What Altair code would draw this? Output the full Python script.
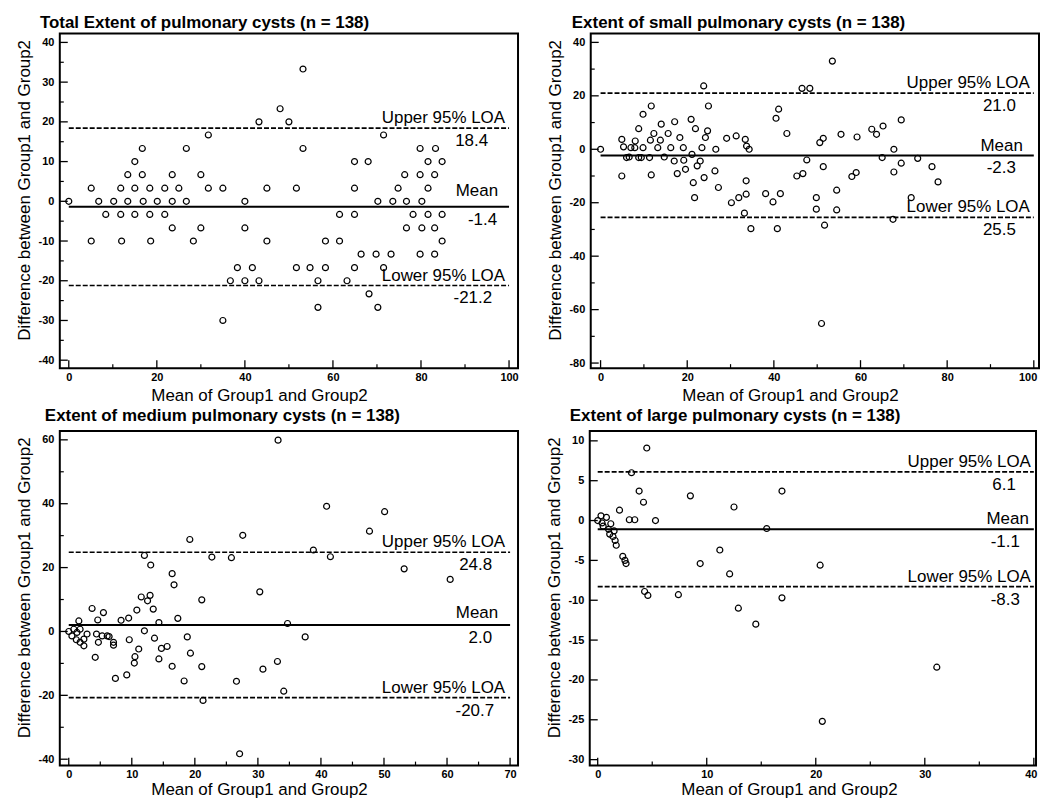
import altair as alt
import pandas as pd

FONT = "Liberation Sans"

# ---------------- data ----------------
total_x = [0, 5.1, 5.1, 6.8, 8.4, 10.2, 11.8, 11.8, 12, 13.4, 13.4, 15, 15, 15, 16.7, 16.7, 16.9, 18.4, 18.4, 18.6,
           20.1, 21.8, 21.8, 23.5, 23.5, 23.5, 25, 26.7, 26.7, 28.3, 30, 30, 31.7, 31.7, 35, 35, 36.7, 38.3, 40, 40,
           40, 41.7, 43.2, 43.2, 45, 45,
           53.2, 48.0, 50.0, 71.5, 53.2, 79.8, 83.3, 64.9, 68.0, 81.6, 84.8, 76.3, 79.8, 83.1, 51.7, 64.9, 74.8, 81.6,
           70.2, 73.6, 76.7, 80.2, 61.5, 64.9, 78.2, 81.6, 84.8, 76.7, 80.2, 83.1, 58.3, 61.5, 84.8, 66.4, 69.8, 73.2,
           79.8, 83.1, 51.7, 54.8, 58.3, 64.9, 71.5, 56.6, 63.2, 68.2, 56.6, 70.2]
total_y = [0, 3.3, -10, 0, -3.3, 0, 3.3, -3.3, -10, 6.7, 0, 10, 3.3, -3.3, 13.3, 6.7, 0, 3.3, -3.3, -10,
           0, 3.3, -3.3, 6.7, 0, -6.7, 3.3, 13.3, 0, -10, 6.7, -6.7, 16.7, 3.3, 3.3, -30, -20, -16.7, 0, -6.7,
           -20, -16.7, 20, -20, 3.3, -10,
           33.3, 23.3, 20, 16.7, 13.3, 13.3, 13.3, 10, 10, 10, 10, 6.7, 6.7, 6.7, 3.3, 3.3, 3.3, 3.3,
           0, 0, 0, 0, -3.3, -3.3, -3.3, -3.3, -3.3, -6.7, -6.7, -6.7, -10, -10, -10, -13.3, -13.3, -13.3,
           -13.3, -13.3, -16.7, -16.7, -16.7, -16.7, -16.7, -20, -20, -23.3, -26.7, -26.7]

small_x = [0, 4.9, 5.3, 4.9, 6.0, 6.6, 7.0, 7.9, 8.0, 8.8, 8.8, 9.8, 9.8, 9.4, 11.3, 11.5, 11.7, 11.7, 12.3, 13.2,
           13.8, 14.0, 14.7, 15.6, 16.2, 17.0, 17.1, 17.7, 18.3, 19.1, 19.2, 19.6, 20.9, 21.1, 21.4, 21.7, 21.9, 22.3,
           23.0, 23.4, 23.8, 23.9, 24.2, 24.7, 24.9, 26.4, 26.6, 27.2, 29.1, 30.2, 31.3, 31.9, 33.2, 33.4, 33.6, 33.6,
           33.7, 34.3, 34.7, 38.1, 39.8, 40.5, 41.1, 40.8, 41.5, 43.0,
           53.5, 46.5, 48.3, 50.6, 51.4, 55.5, 59.2, 62.6, 63.7, 65.2, 69.4, 67.7, 65.0, 73.2, 69.4, 67.7, 76.5, 77.9,
           47.6, 45.3, 46.7, 51.4, 58.0, 59.0, 49.8, 54.5, 49.8, 54.5, 51.7, 71.7, 67.5, 51.0]
small_y = [0, 3.7, 0.9, -10, -3.1, -2.9, 0.6, 0.6, 3.1, 7.7, -3.1, 13.1, 0.6, -3.1, -3.1, 3.4, 16.2, -9.6, 5.9, 0.6,
           3.4, 9.4, -2.9, 5.9, 0.6, -4.4, 10.3, -9.1, 4.4, 0.6, -4.1, -7.5, 11.2, -1.9, -12.5, -18.1, 7.7, -6.2,
           -4.4, 0.6, 23.7, -10.6, 4.4, 6.9, 16.2, -8.1, 0, -14.3, 4.1, -20, 5.0, -18.1, -23.9, 3.7, -16.8, -11.8,
           1.2, 0, -29.7, -16.6, -19.7, 11.6, 15.0, -29.7, -16.6, 5.9,
           33.0, 22.8, 22.8, 2.5, 4.1, 5.6, 4.6, 7.5, 5.6, 8.7, 11.0, 0, -3.1, -3.4, -5.2, -8.5, -6.5, -12.2,
           -4.0, -10.0, -9.1, -6.5, -10.2, -8.7, -18.1, -15.3, -22.4, -22.7, -28.4, -18.1, -26.2, -65.2]

medium_x = [0, 0.5, 0.8, 1.3, 1.6, 1.8, 1.2, 1.8, 2.4, 2.4, 2.9, 3.7, 4.2, 4.6, 4.4, 4.7, 5.3, 5.5, 6.1, 6.4,
            7.1, 7.1, 7.4, 8.3, 9.5, 9.6, 9.2, 10.5, 10.4, 10.8, 11.1, 11.5, 12.0, 12.0, 12.5, 12.9, 13.0, 13.4,
            13.6, 14.3, 14.3, 14.7, 15.6, 16.4, 16.4, 16.7, 17.3, 18.3, 18.8, 19.2, 19.3, 21.1, 21.1, 21.3, 22.7,
            25.8, 26.6, 27.6, 27.1, 30.3, 30.8,
            33.2, 40.9, 50.1, 47.7, 38.8, 41.5, 53.2, 60.5, 34.7, 37.5, 33.1, 34.1]
medium_y = [0, -1.4, 0.7, -0.3, 3.3, 0.7, -2.6, -3.4, -4.5, -2.4, -0.8, 7.2, -8.1, 3.6, -0.8, -3.4, -1.4, 5.9, -1.4, -1.6,
            -3.4, -4.3, -14.7, 3.5, 4.2, -2.6, -13.6, -7.9, -9.9, 6.7, -5.5, 10.8, 0.2, 23.8, 9.6, 11.3, 20.8, 7.0,
            -2.1, 2.8, -8.6, -5.3, -4.7, -10.9, 18.1, 14.6, 4.1, -15.5, -1.7, 28.8, -6.8, 9.9, -11.0, -21.6, 23.3,
            23.1, -15.6, 30.1, -38.3, 12.4, -11.8,
            59.9, 39.2, 37.5, 31.4, 25.5, 23.4, 19.6, 16.3, 2.5, -1.7, -9.4, -18.7]

large_x = [0, 0.3, 0.4, 0.5, 0.8, 1.0, 1.2, 1.1, 1.4, 1.5, 1.6, 1.7, 2.0, 2.3, 2.5, 2.6, 2.9, 3.4, 3.1, 3.8,
           4.2, 4.5, 4.6, 4.3, 5.3, 7.4, 8.5, 9.4, 11.2, 12.1, 12.5, 12.9, 14.5, 15.5, 16.9, 16.9, 20.4, 20.6, 31.1]
large_y = [0, 0.6, -0.3, -0.7, 0.4, -1.1, -0.4, -1.7, -2.0, -1.3, -2.5, -3.1, 1.3, -4.5, -5.0, -5.4, 0.1, 0.1, 6.0, 3.7,
           2.3, 9.1, -9.4, -8.9, 0, -9.3, 3.1, -5.4, -3.7, -6.7, 1.7, -11.0, -13.0, -1.0, 3.7, -9.7, -5.6, -25.2, -18.4]

titles = ["Total Extent of pulmonary cysts (n = 138)",
          "Extent of small pulmonary cysts (n = 138)",
          "Extent of medium pulmonary cysts (n = 138)",
          "Extent of large pulmonary cysts (n = 138)"]

# Bland-Altman statistics (upper LOA, mean, lower LOA) and their printed labels
upper_vals = [18.4, 21.0, 24.8, 6.1]
mean_vals = [-1.4, -2.3, 2.0, -1.1]
lower_vals = [-21.2, -25.5, -20.7, -8.3]
upper_txt = ["18.4", "21.0", "24.8", "6.1"]
mean_txt = ["-1.4", "-2.3", "2.0", "-1.1"]
lower_txt = ["-21.2", "25.5", "-20.7", "-8.3"]
line_end = [100, 100, 70, 40]

# axis ticks
x_major = [[0, 20, 40, 60, 80, 100], [0, 20, 40, 60, 80, 100], [0, 10, 20, 30, 40, 50, 60, 70], [0, 10, 20, 30, 40]]
x_minor = [[10, 30, 50, 70, 90], [10, 30, 50, 70, 90], [5, 15, 25, 35, 45, 55, 65], [5, 15, 25, 35]]
y_major = [[-40, -30, -20, -10, 0, 10, 20, 30, 40], [-80, -60, -40, -20, 0, 20, 40],
           [-40, -20, 0, 20, 40, 60], [-30, -25, -20, -15, -10, -5, 0, 5, 10]]
y_minor = [[-35, -25, -15, -5, 5, 15, 25, 35], [-70, -50, -30, -10, 10, 30],
           [-30, -10, 10, 30, 50], []]

# ---------------- layout / style ----------------
layout = [
    dict(w=460, h=336, xdom=[-2.04, 102.04], ydom=[-42.0, 42.26], tdx=-20, toff=-12, flush_last=False, xtp=5,
         loa_dx=-4, mean_dx=-11, mean_dy=-11, val_dx=[-21, -12, -17]),
    dict(w=450, h=336, xdom=[-2.27, 101.2], ydom=[-81.9, 43.35], tdx=-19, toff=-12, flush_last=True, xtp=5,
         loa_dx=-4, mean_dx=-11, mean_dy=-4, val_dx=[-18, -18, -18]),
    dict(w=460, h=336, xdom=[-1.42, 71.26], ydom=[-42.0, 62.8], tdx=-15, toff=-7, flush_last=False, xtp=2,
         loa_dx=-5, mean_dx=-12, mean_dy=-7, val_dx=[-18, -18, -16]),
    dict(w=448, h=336, xdom=[-0.73, 40.2], ydom=[-30.75, 11.25], tdx=-20, toff=-7, flush_last=True, xtp=2,
         loa_dx=-3, mean_dx=-5, mean_dy=-5, val_dx=[-18, -14, -14]),
]

XT = "Mean of Group1 and Group2"
YT = "Difference between Group1 and Group2"

AX = dict(labelFont=FONT, labelFontSize=11, labelFontWeight="bold", labelColor="black",
          titleFont=FONT, titleFontSize=17, titleFontWeight="normal", titleColor="black",
          ticks=False, domain=False, grid=False, labelExpr="'' + datum.value")


def panel(i, xs_data, ys_data):
    L = layout[i]
    xs = alt.Scale(domain=L["xdom"], nice=False, zero=False)
    ys = alt.Scale(domain=L["ydom"], nice=False, zero=False)
    xextra = {}
    if L["flush_last"]:
        last = x_major[i][-1]
        xextra["labelAlign"] = {"condition": {"test": f"datum.value >= {last}", "value": "right"},
                                "value": "center"}
        xextra["labelOffset"] = {"condition": {"test": f"datum.value >= {last}", "value": 3},
                                 "value": 0}
    xaxis = alt.Axis(values=x_major[i], title=XT, labelPadding=3, minExtent=14, maxExtent=14,
                     titlePadding=L["xtp"], titleX=200, **AX, **xextra)
    yaxis = alt.Axis(values=y_major[i], title=YT, labelPadding=6, minExtent=22, maxExtent=22,
                     titlePadding=4, titleY=157, **AX)

    def X(f):
        return alt.X(f, scale=xs, axis=xaxis)

    def Y(f):
        return alt.Y(f, scale=ys, axis=yaxis)

    pts = pd.DataFrame({"m": xs_data, "d": ys_data})
    points = alt.Chart(pts).mark_point(shape="circle", filled=False, color="black",
                                       size=36, strokeWidth=1.2, opacity=1).encode(x=X("m:Q"), y=Y("d:Q"))

    lines = pd.DataFrame({"m": [0, 0, 0], "m2": [line_end[i]] * 3,
                          "d": [upper_vals[i], mean_vals[i], lower_vals[i]],
                          "k": ["loa", "mean", "loa"]})
    mean_rule = alt.Chart(lines).transform_filter("datum.k == 'mean'").mark_rule(
        color="black", strokeWidth=2).encode(x=X("m:Q"), x2="m2", y=Y("d:Q"))
    loa_rule = alt.Chart(lines).transform_filter("datum.k == 'loa'").mark_rule(
        color="black", strokeWidth=1.7, strokeDash=[5, 2]).encode(x=X("m:Q"), x2="m2", y=Y("d:Q"))

    layers = [loa_rule, mean_rule, points]

    labels = [("Upper 95% LOA", upper_vals[i], L["loa_dx"], -5),
              ("Mean", mean_vals[i], L["mean_dx"], L["mean_dy"]),
              ("Lower 95% LOA", lower_vals[i], L["loa_dx"], -5)]
    vals = [(upper_txt[i], upper_vals[i], L["val_dx"][0], 18),
            (mean_txt[i], mean_vals[i], L["val_dx"][1], 18),
            (lower_txt[i], lower_vals[i], L["val_dx"][2], 18)]
    for txt, v, dx, dy in labels + vals:
        df = pd.DataFrame({"m": [line_end[i]], "d": [v], "t": [txt]})
        layers.append(alt.Chart(df).mark_text(align="right", baseline="alphabetic", dx=dx, dy=dy,
                                              font=FONT, fontSize=17, color="black")
                      .encode(x=X("m:Q"), y=Y("d:Q"), text="t:N"))

    # inward ticks
    H = L["h"]
    ym = pd.DataFrame({"d": y_major[i]})
    layers.append(alt.Chart(ym).mark_rule(color="black", strokeWidth=1.3).encode(
        y=Y("d:Q"), x=alt.value(0), x2=alt.value(8)))
    if y_minor[i]:
        yn = pd.DataFrame({"d": y_minor[i]})
        layers.append(alt.Chart(yn).mark_rule(color="black", strokeWidth=1.2).encode(
            y=Y("d:Q"), x=alt.value(0), x2=alt.value(4)))
    xm = pd.DataFrame({"m": x_major[i]})
    layers.append(alt.Chart(xm).mark_rule(color="black", strokeWidth=1.3).encode(
        x=X("m:Q"), y=alt.value(H), y2=alt.value(H - 8)))
    xn = pd.DataFrame({"m": x_minor[i]})
    layers.append(alt.Chart(xn).mark_rule(color="black", strokeWidth=1.2).encode(
        x=X("m:Q"), y=alt.value(H), y2=alt.value(H - 4)))

    return alt.layer(*layers).properties(
        width=L["w"], height=H,
        title=alt.TitleParams(titles[i], anchor="start", frame="group", dx=L["tdx"], offset=L["toff"],
                              font=FONT, fontSize=17, fontWeight="bold", color="black",
                              baseline="alphabetic"))


p1 = panel(0, total_x, total_y)
p2 = panel(1, small_x, small_y)
p3 = panel(2, medium_x, medium_y)
p4 = panel(3, large_x, large_y)

chart = alt.vconcat(
    alt.hconcat(p1, p2, spacing=26),
    alt.hconcat(p3, p4, spacing=26),
    spacing=2,
).properties(
    padding={"left": 7, "top": 4, "right": 0, "bottom": 0},
    background="white"
).configure_view(
    stroke="black", strokeWidth=2
)

chart.save("out.html", embed_options={"renderer": "svg", "actions": False})
